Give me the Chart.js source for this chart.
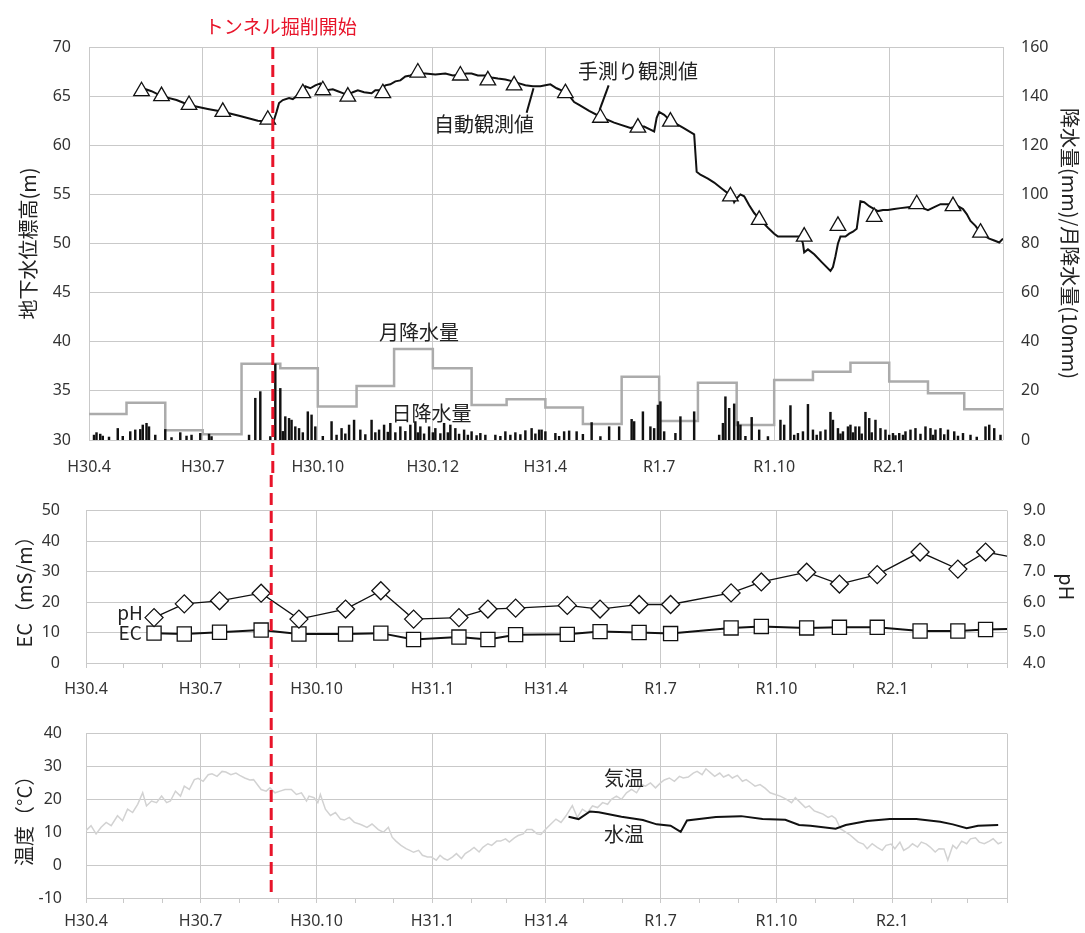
<!DOCTYPE html>
<html lang="ja">
<head>
<meta charset="utf-8">
<title>地下水位・水質・温度の経時変化</title>
<script src="https://cdn.jsdelivr.net/npm/chart.js@4.4.1/dist/chart.umd.min.js"></script>
<style>
  html, body { margin: 0; padding: 0; background: #fff; }
  #wrap { position: relative; width: 1085px; height: 933px; }
  #wrap canvas { position: absolute; left: 0; }
</style>
</head>
<body>
<div id="wrap">
  <canvas id="levelChart" width="1085" height="475" style="top:0"></canvas>
  <canvas id="qualityChart" width="1085" height="225" style="top:475px"></canvas>
  <canvas id="tempChart" width="1085" height="233" style="top:700px"></canvas>
</div>
<script>
// x values are days counted from 2018-04-01 (H30.4)
const quarterDays = [0, 91, 183, 275, 365, 456, 548, 640, 731];
const monthDays = [0, 30, 61, 91, 122, 153, 183, 214, 244, 275, 306, 334,
                   365, 395, 426, 456, 487, 518, 548, 579, 609, 640, 671, 700, 731];
const quarterLabelsTop = ['H30.4', 'H30.7', 'H30.10', 'H30.12', 'H31.4', 'R1.7', 'R1.10', 'R2.1', ''];
const quarterLabels = ['H30.4', 'H30.7', 'H30.10', 'H31.1', 'H31.4', 'R1.7', 'R1.10', 'R2.1', ''];
const tunnelStartDay = 147;

// groundwater level (m)
const manualDays = [42, 58, 80, 107, 143, 171, 187, 207, 235, 263, 297, 319, 340,
                    381, 409, 439, 465, 513, 536, 572, 599, 628, 662, 691, 713];
const manualLevel = [65.5, 65.0, 64.1, 63.4, 62.6, 65.3, 65.6, 64.95, 65.3, 67.4, 67.1, 66.6, 66.1,
                     65.3, 62.8, 61.8, 62.4, 54.8, 52.4, 50.7, 51.8, 52.7, 54.0, 53.8, 51.1];
const autoLevel = [
  [43, 65.8], [50, 65.5], [58, 65.0], [70, 64.6], [80, 64.1], [95, 63.7], [107, 63.4], [120, 63.0],
  [135, 62.5], [145, 62.4], [148, 62.6], [150, 63.4], [152, 64.3], [155, 64.6], [160, 64.8], [163, 64.7],
  [167, 65.1], [170, 65.0], [173, 66.0], [177, 65.8], [181, 66.1], [185, 66.3], [188, 65.8], [190, 65.6],
  [195, 65.7], [199, 65.5], [203, 65.3], [207, 65.1], [211, 65.4], [215, 65.6], [220, 65.4], [226, 65.3],
  [229, 65.6], [232, 65.6], [235, 65.8], [237, 66.1], [241, 66.2], [245, 66.5], [249, 66.6], [253, 67.0],
  [257, 67.1], [262, 67.4], [265, 67.3], [269, 67.3], [277, 67.2], [285, 67.3], [291, 67.1], [297, 67.2],
  [302, 67.3], [306, 67.3], [311, 67.1], [317, 67.1], [322, 66.9], [327, 66.8], [333, 66.7], [339, 66.5],
  [344, 66.3], [349, 66.1], [355, 66.0], [361, 66.0], [365, 66.1], [369, 66.2], [374, 65.8], [381, 65.4],
  [385, 64.9], [388, 64.4], [392, 64.1], [400, 63.5], [409, 62.9], [420, 62.3], [433, 61.75], [438, 61.9],
  [444, 61.9], [449, 61.6], [452, 61.4], [454, 62.8], [456, 63.4], [460, 63.1], [465, 62.5], [475, 61.8],
  [484, 61.1], [486, 57.3], [489, 57.0], [495, 56.6], [500, 56.2], [506, 55.6], [511, 55.1], [514, 54.9],
  [516, 54.2], [518, 54.6], [521, 55.0], [524, 54.8], [528, 53.9], [532, 53.1], [537, 52.4], [543, 51.6],
  [548, 51.0], [551, 50.7], [560, 50.7], [569, 50.7], [571, 50.0], [572, 49.1], [575, 49.4], [580, 48.9],
  [586, 48.1], [593, 47.2], [595, 47.6], [597, 48.7], [599, 50.0], [601, 50.7], [605, 50.7], [608, 51.0],
  [611, 51.2], [614, 51.5], [617, 54.3], [620, 54.2], [624, 53.8], [628, 53.5], [631, 53.3], [635, 53.4],
  [639, 53.4], [644, 53.5], [649, 53.6], [655, 53.7], [662, 53.8], [667, 53.6], [671, 53.4], [676, 53.7],
  [681, 54.0], [686, 54.0], [691, 54.0], [695, 53.8], [699, 53.5], [702, 53.0], [705, 52.3], [709, 51.8],
  [713, 51.1], [716, 50.8], [720, 50.5], [724, 50.3], [728, 50.1], [731, 50.5]
];

// monthly rainfall (10mm), Apr 2018 .. Mar 2020
const monthlyRain = [10.6, 15.2, 4.0, 2.3, 31.0, 29.2, 13.6, 22.0, 37.0, 29.2, 14.2, 16.6,
                     13.2, 6.5, 25.8, 7.7, 23.3, 6.1, 24.4, 27.8, 31.5, 23.8, 19.0, 12.5];

// daily rainfall (mm) [day, mm]
const dailyRain = [
  [4, 2.0], [6, 3.0], [9, 2.4], [11, 1.6], [16, 1.2], [23, 4.7], [27, 1.5], [33, 3.4], [37, 4.1], [41, 4.3],
  [43, 6.1], [46, 6.8], [48, 5.4], [53, 2.0], [61, 4.3], [66, 1.0], [73, 3.0], [78, 1.6], [82, 2.0], [89, 2.7],
  [96, 2.4], [98, 1.4], [128, 2.0], [133, 17.0], [137, 19.7], [145, 1.4], [149, 31.0], [153, 21.0], [155, 3.5],
  [157, 9.5], [160, 8.8], [162, 8.1], [165, 5.4], [168, 4.7], [171, 3.0], [175, 11.5], [178, 10.2], [181, 5.4],
  [187, 1.5], [194, 7.5], [198, 2.0], [202, 4.7], [205, 2.5], [208, 6.1], [212, 8.1], [217, 4.1], [221, 2.2],
  [226, 8.1], [229, 3.0], [232, 4.1], [236, 6.1], [239, 3.2], [241, 6.8], [245, 3.0], [249, 5.4], [253, 3.5],
  [257, 6.1], [261, 7.5], [263, 3.0], [265, 5.4], [268, 2.5], [272, 5.4], [275, 3.0], [277, 4.7], [281, 2.6],
  [284, 6.8], [287, 3.0], [289, 6.1], [293, 4.7], [296, 2.4], [300, 4.1], [303, 2.0], [306, 3.4], [310, 1.8],
  [313, 2.7], [317, 2.0], [325, 2.0], [329, 1.5], [333, 3.4], [337, 2.0], [341, 3.0], [345, 2.2], [349, 3.8],
  [354, 4.7], [357, 2.5], [360, 4.1], [362, 4.1], [365, 3.4], [373, 2.7], [376, 1.5], [380, 3.4], [384, 3.7],
  [390, 3.4], [395, 2.3], [402, 7.1], [409, 1.4], [416, 5.4], [424, 5.4], [434, 8.4], [436, 7.5], [443, 11.5],
  [449, 5.4], [452, 4.7], [455, 14.2], [457, 15.6], [460, 3.4], [469, 2.7], [473, 9.5], [484, 11.5], [504, 2.0],
  [507, 6.8], [509, 17.6], [512, 12.9], [516, 14.7], [519, 7.5], [521, 6.1], [525, 1.5], [530, 9.2], [536, 4.1],
  [543, 1.4], [553, 8.1], [556, 6.1], [561, 14.0], [564, 2.0], [567, 2.7], [571, 3.4], [575, 14.5], [579, 4.1],
  [582, 2.0], [585, 3.4], [589, 4.1], [593, 11.3], [595, 8.1], [599, 4.7], [601, 2.5], [603, 3.4], [607, 5.4],
  [609, 6.1], [611, 3.0], [613, 5.4], [616, 5.4], [618, 2.5], [621, 11.3], [624, 8.8], [626, 3.0], [629, 8.1],
  [633, 4.7], [637, 4.1], [640, 2.0], [643, 2.7], [645, 1.8], [648, 2.7], [651, 2.0], [653, 3.4], [657, 4.1],
  [661, 4.7], [665, 2.4], [669, 5.4], [673, 4.7], [675, 2.0], [677, 4.1], [681, 4.7], [684, 2.2], [687, 4.1],
  [692, 3.4], [695, 1.6], [699, 2.7], [705, 2.0], [710, 1.2], [717, 5.4], [720, 6.1], [724, 4.7], [729, 2.0]
];

// water quality
const sampleDays = [54, 78, 106, 139, 169, 206, 234, 260, 296, 319, 341, 382,
                    408, 439, 464, 512, 536, 572, 598, 628, 662, 692, 714, 745];
const ecValues = [9.8, 9.5, 10.1, 10.8, 9.5, 9.5, 9.8, 7.7, 8.5, 7.7, 9.3, 9.4,
                  10.3, 10.0, 9.65, 11.5, 12.0, 11.5, 11.7, 11.7, 10.5, 10.5, 11.0, 11.3];
const phValues = [5.49, 5.94, 6.04, 6.29, 5.44, 5.77, 6.37, 5.44, 5.49, 5.77, 5.80, 5.89,
                  5.77, 5.92, 5.92, 6.30, 6.66, 6.98, 6.59, 6.90, 7.64, 7.08, 7.64, 7.40];

// temperature (°C)
const waterTemp = [
  [383, 14.7], [391, 14.0], [400, 16.3], [407, 16.1], [425, 14.7], [442, 13.7], [453, 12.4], [464, 12.0],
  [472, 10.1], [477, 13.6], [500, 14.6], [520, 14.9], [537, 14.0], [555, 13.8], [566, 12.2], [575, 12.0],
  [595, 11.1], [603, 12.2], [620, 13.4], [638, 14.0], [659, 14.0], [678, 13.2], [688, 12.4], [699, 11.2],
  [708, 12.0], [724, 12.2]
];
const airTemp = [
  [0, 10.5], [4, 12], [8, 9.5], [12, 11.5], [16, 13], [20, 12], [25, 15], [29, 13.5], [33, 17], [37, 16],
  [41, 18.5], [45, 22], [48, 18], [52, 19.5], [56, 19], [60, 21], [64, 19], [67, 19.5], [71, 22.5], [75, 21],
  [78, 24], [82, 23], [86, 26], [89, 26.4], [93, 25.5], [97, 27.5], [100, 27.8], [104, 27], [108, 28.5],
  [111, 28.3], [115, 27.5], [119, 28], [122, 27.3], [126, 26.5], [130, 25.9], [133, 26], [137, 24], [139, 23],
  [143, 22.5], [146, 23.5], [150, 22], [154, 22.5], [158, 23], [163, 23], [167, 21.5], [171, 22], [175, 19.5],
  [177, 21], [181, 20.5], [184, 19], [186, 21.5], [190, 17], [194, 15.1], [198, 16], [202, 14], [205, 13.7],
  [209, 14.5], [213, 13], [217, 12.5], [219, 12.2], [223, 11.5], [227, 12.5], [232, 10.8], [236, 10],
  [240, 11.5], [243, 8.5], [246, 7.3], [250, 6], [254, 5], [257, 4.5], [260, 3.9], [264, 4.5], [267, 3],
  [271, 2.5], [274, 2.5], [278, 1.5], [281, 3], [284, 2], [287, 1.5], [291, 2.5], [294, 3.5], [298, 2],
  [301, 3.5], [305, 4.5], [308, 5.4], [312, 4], [315, 5.4], [319, 6.5], [322, 6], [326, 7.3], [329, 7.3],
  [333, 8], [336, 7], [340, 8.3], [343, 9], [347, 9.5], [350, 10.8], [354, 10.8], [358, 9.5], [361, 9.3],
  [365, 11], [369, 12.5], [373, 14], [377, 13], [381, 15], [386, 18.1], [390, 14.5], [394, 17], [398, 16],
  [402, 18], [406, 17.5], [410, 19], [414, 18.5], [417, 20], [421, 21], [425, 20], [429, 22], [433, 23],
  [437, 22], [441, 24.5], [444, 24], [448, 25], [452, 23.5], [456, 25], [459, 25.9], [463, 26.5], [467, 25.5],
  [471, 27], [474, 26.5], [478, 26.8], [482, 28], [485, 28.5], [489, 27.5], [492, 29.3], [496, 28], [499, 27],
  [503, 28], [506, 26.8], [510, 27.5], [513, 26.5], [517, 27.3], [521, 25.5], [524, 26], [528, 24.9],
  [531, 24], [535, 24.5], [539, 23.4], [543, 22], [547, 21.5], [551, 21], [556, 20], [560, 19], [563, 20.5],
  [567, 19], [571, 17.5], [574, 18], [578, 16.5], [581, 16.1], [585, 15.5], [589, 14.5], [592, 15],
  [595, 14.2], [599, 11], [603, 10], [606, 9.3], [610, 8], [613, 7], [617, 6.4], [620, 5], [624, 6.5],
  [628, 5.4], [632, 4.5], [635, 6], [639, 6.4], [642, 5], [646, 7], [649, 4.5], [653, 5.4], [656, 6.5],
  [660, 5.5], [663, 7], [667, 6.4], [670, 5.5], [674, 4], [677, 5], [681, 4.9], [684, 1.5], [688, 6],
  [691, 5], [695, 7.3], [699, 6.5], [702, 8], [706, 8.3], [709, 7], [713, 6.5], [717, 7.3], [720, 8],
  [724, 6.5], [727, 7]
];

const FONT_LATIN = "'Noto Sans', 'Noto Sans CJK JP', sans-serif";
const FONT_JP = "'Noto Sans CJK JP', 'Noto Sans', sans-serif";
const GRID = '#c9c9c9';
const RED = '#e8142a';

Chart.defaults.font.family = FONT_LATIN;
Chart.defaults.font.size = 16;
Chart.defaults.color = '#333';
Chart.defaults.animation = false;
Chart.defaults.plugins.legend.display = false;
Chart.defaults.plugins.tooltip.enabled = false;

const toXY = pairs => pairs.map(([x, y]) => ({ x, y }));
const zipXY = (xs, ys) => xs.map((x, i) => ({ x, y: ys[i] }));

// text labels with optional leader lines, positioned in data units
const notesPlugin = {
    id: 'notes',
    afterDatasetsDraw(chart, args, opts) {
        const ctx = chart.ctx;
        const xs = chart.scales.x;
        (opts.items || []).forEach(n => {
            const ys = chart.scales[n.axis || 'y'];
            ctx.save();
            if (n.leader) {
                ctx.beginPath();
                ctx.moveTo(xs.getPixelForValue(n.leader[0]), ys.getPixelForValue(n.leader[1]));
                ctx.lineTo(xs.getPixelForValue(n.leader[2]), ys.getPixelForValue(n.leader[3]));
                ctx.lineWidth = 2;
                ctx.strokeStyle = '#111';
                ctx.stroke();
            }
            ctx.font = (n.size || 20) + 'px ' + FONT_JP;
            ctx.fillStyle = '#222';
            ctx.textAlign = 'center';
            ctx.textBaseline = 'middle';
            ctx.fillText(n.text, xs.getPixelForValue(n.x), ys.getPixelForValue(n.y));
            ctx.restore();
        });
    }
};

// red dashed line for the start of tunnel excavation
const tunnelPlugin = {
    id: 'tunnel',
    afterDraw(chart, args, opts) {
        const ctx = chart.ctx;
        const px = chart.scales.x.getPixelForValue(tunnelStartDay);
        const top = opts.fromArea ? chart.chartArea.top : 0;
        const bottom = opts.toArea ? chart.chartArea.bottom : chart.height;
        ctx.save();
        ctx.strokeStyle = RED;
        ctx.lineWidth = 3;
        ctx.setLineDash([12, 6]);
        ctx.beginPath();
        ctx.moveTo(px, top);
        ctx.lineTo(px, bottom);
        ctx.stroke();
        if (opts.label) {
            ctx.setLineDash([]);
            ctx.font = '19px ' + FONT_JP;
            ctx.fillStyle = RED;
            ctx.textAlign = 'center';
            ctx.textBaseline = 'middle';
            ctx.fillText(opts.label, px + 8, chart.chartArea.top - 20);
        }
        ctx.restore();
    }
};

function xAxis(labels, height, pad, minor) {
    return {
        type: 'linear',
        min: 0,
        max: 731,
        offset: false,
        afterBuildTicks: s => { s.ticks = (minor ? monthDays : quarterDays).map(v => ({ value: v })); },
        afterFit: s => { s.height = height; },
        grid: {
            color: c => (c.tick && quarterDays.includes(c.tick.value)) ? GRID : 'rgba(0,0,0,0)',
            tickColor: GRID,
            drawTicks: minor,
            tickLength: 5,
            offset: false
        },
        border: { display: false },
        ticks: {
            autoSkip: false,
            maxRotation: 0,
            padding: pad,
            callback: v => {
                const i = quarterDays.indexOf(v);
                return i >= 0 ? labels[i] : '';
            }
        }
    };
}

function yAxis(position, min, max, step, title, width, pad, titlePad, fmt) {
    return {
        position,
        min,
        max,
        afterFit: s => { s.width = width; },
        grid: { display: position === 'left', color: GRID, drawTicks: false },
        border: { display: false },
        ticks: { stepSize: step, padding: pad, callback: fmt || (v => v) },
        title: {
            display: true,
            text: title,
            color: '#222',
            font: { family: FONT_JP, size: 20 },
            padding: { top: titlePad, bottom: 0 }
        }
    };
}

// ---- groundwater level + rainfall
const monthlyPoints = zipXY(monthDays, monthlyRain.concat(monthlyRain[monthlyRain.length - 1]));

new Chart(document.getElementById('levelChart'), {
    type: 'line',
    data: {
        datasets: [
            {
                label: '手測り観測値',
                data: zipXY(manualDays, manualLevel),
                showLine: false,
                pointStyle: 'triangle',
                pointRadius: 9,
                pointBackgroundColor: '#fff',
                pointBorderColor: '#111',
                pointBorderWidth: 1.3,
                order: 0
            },
            {
                label: '自動観測値',
                data: toXY(autoLevel),
                borderColor: '#111',
                borderWidth: 2,
                pointRadius: 0,
                tension: 0,
                order: 1
            },
            {
                type: 'bar',
                label: '日降水量',
                data: toXY(dailyRain),
                yAxisID: 'y2',
                backgroundColor: '#111',
                barThickness: 1.8,
                order: 2
            },
            {
                label: '月降水量',
                data: monthlyPoints,
                yAxisID: 'y2',
                stepped: 'before',
                borderColor: '#ababab',
                borderWidth: 2.5,
                pointRadius: 0,
                order: 3
            }
        ]
    },
    options: {
        responsive: false,
        layout: { padding: { top: 47, left: 0, right: 0, bottom: 0 } },
        scales: {
            x: xAxis(quarterLabelsTop, 35, 18, false),
            y: yAxis('left', 30, 70, 5, '地下水位標高(m)', 89, 18, 16),
            y2: yAxis('right', 0, 160, 20, '降水量(mm)/月降水量(10mm)', 82, 18, 3)
        },
        plugins: {
            notes: {
                items: [
                    { text: '手測り観測値', x: 439, y: 67.5, leader: [415.6, 66.1, 408.4, 63.6] },
                    { text: '自動観測値', x: 316, y: 62.1, leader: [350, 63.3, 355.5, 65.8] },
                    { text: '月降水量', x: 264, y: 44, axis: 'y2' },
                    { text: '日降水量', x: 274, y: 10.8, axis: 'y2' }
                ]
            },
            tunnel: { fromArea: true, toArea: false, label: 'トンネル掘削開始' }
        }
    },
    plugins: [notesPlugin, tunnelPlugin]
});

// ---- EC / pH
new Chart(document.getElementById('qualityChart'), {
    type: 'line',
    data: {
        datasets: [
            {
                label: 'pH',
                data: zipXY(sampleDays, phValues),
                yAxisID: 'y2',
                borderColor: '#111',
                borderWidth: 1.3,
                pointStyle: 'rectRot',
                pointRadius: 9,
                pointBackgroundColor: '#fff',
                pointBorderColor: '#111',
                pointBorderWidth: 1.3,
                tension: 0
            },
            {
                label: 'EC',
                data: zipXY(sampleDays, ecValues),
                borderColor: '#111',
                borderWidth: 2,
                pointStyle: 'rect',
                pointRadius: 10,
                pointBackgroundColor: '#fff',
                pointBorderColor: '#111',
                pointBorderWidth: 1.3,
                tension: 0
            }
        ]
    },
    options: {
        responsive: false,
        layout: { padding: { top: 27, left: 0, right: 0, bottom: 0 } },
        scales: {
            x: xAxis(quarterLabels, 37, 12, true),
            y: yAxis('left', 0, 50, 10, 'EC（mS/m）', 86, 26, 12),
            y2: yAxis('right', 4, 9, 1, 'pH', 78, 16, 6, v => v.toFixed(1))
        },
        plugins: {
            notes: {
                items: [
                    { text: 'pH', x: 35, y: 5.65, axis: 'y2', size: 19 },
                    { text: 'EC', x: 35, y: 9.9, size: 19 }
                ]
            },
            tunnel: { fromArea: false, toArea: false }
        }
    },
    plugins: [notesPlugin, tunnelPlugin]
});

// ---- air / water temperature
new Chart(document.getElementById('tempChart'), {
    type: 'line',
    data: {
        datasets: [
            {
                label: '水温',
                data: toXY(waterTemp),
                borderColor: '#111',
                borderWidth: 2,
                pointRadius: 0,
                tension: 0
            },
            {
                label: '気温',
                data: toXY(airTemp),
                borderColor: '#d2d2d2',
                borderWidth: 1.5,
                pointRadius: 0,
                tension: 0
            }
        ]
    },
    options: {
        responsive: false,
        layout: { padding: { top: 27, left: 0, right: 78, bottom: 0 } },
        scales: {
            x: xAxis(quarterLabels, 35, 9, true),
            y: yAxis('left', -10, 40, 10, '温度（°C）', 86, 24, 12)
        },
        plugins: {
            notes: {
                items: [
                    { text: '気温', x: 427, y: 26.5 },
                    { text: '水温', x: 427, y: 9.3 }
                ]
            },
            tunnel: { fromArea: false, toArea: true }
        }
    },
    plugins: [notesPlugin, tunnelPlugin]
});
</script>
</body>
</html>
